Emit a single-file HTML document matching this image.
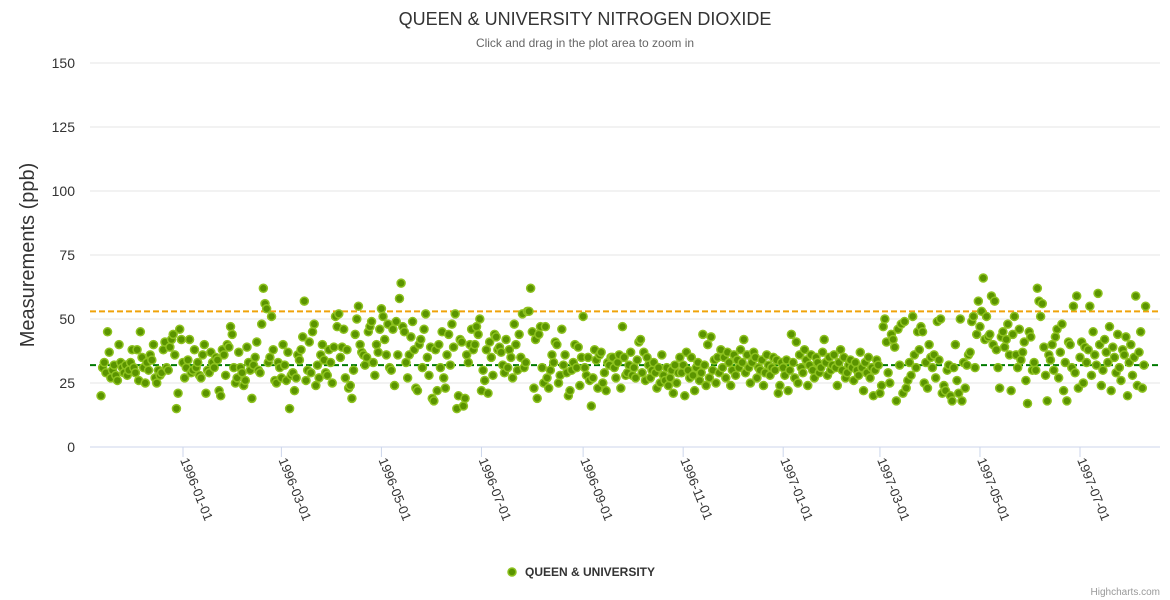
<!DOCTYPE html>
<html><head><meta charset="utf-8"><style>
body{margin:0;background:#fff;font-family:"Liberation Sans",sans-serif}
svg{display:block}
</style></head><body>
<svg id="chart" width="1170" height="600">
<text x="585" y="25" text-anchor="middle" font-size="18" fill="#333">QUEEN &amp; UNIVERSITY NITROGEN DIOXIDE</text>
<text x="585" y="47" text-anchor="middle" font-size="12" fill="#666">Click and drag in the plot area to zoom in</text>
<text transform="translate(34,255) rotate(-90)" text-anchor="middle" font-size="20" fill="#333">Measurements (ppb)</text>
<g id="grid"></g><g id="xaxis"></g><g id="plot"></g>
<g>
<circle cx="512" cy="572" r="4" fill="#5a9400" stroke="#8dc21f" stroke-width="1.5"/>
<text x="525" y="576" font-size="12" font-weight="bold" fill="#333">QUEEN &amp; UNIVERSITY</text>
</g>
<text x="1160" y="595" text-anchor="end" font-size="10" fill="#999">Highcharts.com</text>
</svg>
<script>
const yTicks=[0,25,50,75,100,125,150];
const xTickLabels=["1996-01-01","1996-03-01","1996-05-01","1996-07-01","1996-09-01","1996-11-01","1997-01-01","1997-03-01","1997-05-01","1997-07-01"];
const startDate="1995-11-12";
const upperRef=53;
const lowerRef=32;
const values=[
20,31,33,29,45,37,27,30,32,28,26,40,33,31,29,32,28,30,33,38,31,
29,38,26,45,35,31,25,33,30,36,34,40,27,25,30,28,29,38,41,31,30,39,42,44,36,15,21,46,42,33,
27,31,34,42,29,30,38,31,33,28,27,36,40,21,30,29,37,33,31,35,34,22,20,38,36,28,40,39,47,44,31,
25,27,37,31,29,24,26,39,33,30,19,32,35,41,30,29,48,62,56,54,33,35,51,38,26,25,33,31,27,
40,32,26,37,15,28,29,22,27,36,34,38,43,57,26,30,41,29,45,48,24,32,27,36,40,34,29,28,38,33,25,
39,51,47,52,35,39,46,27,38,23,24,19,30,44,50,55,40,37,36,32,35,45,47,49,33,28,40,37,46,54,
51,42,36,48,31,30,46,24,49,36,58,64,47,45,33,27,36,43,49,38,23,22,40,42,31,46,52,35,28,39,19,
18,38,22,40,31,45,27,23,36,44,32,48,39,52,15,20,42,41,16,19,36,33,40,46,38,40,47,44,50,22,
30,26,38,21,41,35,28,44,43,38,39,37,32,29,42,31,38,35,27,48,40,30,44,35,52,31,33,53,53,62,
45,23,42,19,44,47,31,25,47,27,23,30,36,33,41,40,25,28,46,32,36,29,20,22,30,33,40,31,39,24,35,
51,31,28,35,26,16,27,38,34,23,36,37,25,29,22,33,32,35,35,31,27,33,36,23,47,35,28,29,32,37,
28,31,27,34,41,42,29,37,26,35,32,27,30,33,29,23,31,25,36,28,26,31,24,27,30,21,32,25,29,35,29,
32,20,37,30,27,35,28,22,31,33,26,29,44,32,24,40,27,43,30,34,25,35,29,38,31,35,27,37,33,24,
30,36,28,34,31,38,33,42,29,36,31,25,33,37,35,27,31,30,34,24,29,36,32,28,31,35,30,34,21,24,33,
31,28,34,22,30,44,33,27,41,25,36,31,29,38,34,24,32,36,30,27,35,33,29,31,37,42,33,28,35,30,32,
36,31,24,33,38,30,35,27,29,32,34,31,26,33,30,28,37,31,22,33,29,35,27,31,20,30,34,32,
21,24,47,50,41,29,25,44,42,39,18,46,32,48,21,49,23,26,33,28,51,36,31,45,38,47,45,25,33,23,40,
35,31,36,27,49,34,50,21,24,22,30,32,20,18,31,40,26,21,50,18,33,23,32,36,37,49,51,31,44,57,
47,53,66,42,51,43,44,59,40,57,38,31,23,43,45,39,42,48,36,22,44,51,36,31,46,34,37,41,26,17,45,
43,30,33,30,62,57,51,56,39,28,18,36,34,40,30,43,46,27,37,48,22,33,18,41,40,31,55,29,59,23,
35,41,25,39,33,38,55,28,45,36,32,60,40,24,30,42,37,33,47,22,39,35,29,44,31,26,38,36,43,20,33,
40,28,35,59,24,37,45,23,32,55
];
const NS="http://www.w3.org/2000/svg";
const L=90,R=1160,T=63,B=447,YMAX=150;
const D0=Date.UTC(1996,0,1),D1=Date.UTC(1997,6,1);
function ys(v){return B-(v/YMAX)*(B-T);}
function xs(t){return 183+(t-D0)/(D1-D0)*(1080-183);}
function mk(tag,attrs,parent){const e=document.createElementNS(NS,tag);for(const k in attrs)e.setAttribute(k,attrs[k]);parent.appendChild(e);return e;}
const grid=document.getElementById('grid'),xa=document.getElementById('xaxis'),plot=document.getElementById('plot');
yTicks.forEach(v=>{
  const y=ys(v);
  const ln=mk('line',{x1:L,x2:R,y1:y,y2:y,stroke:v===0?'#ccd6eb':'#e6e6e6','stroke-width':1},grid);
  
  
  const t=mk('text',{x:75,y:y+5,'text-anchor':'end','font-size':14,fill:'#333'},grid);
  t.textContent=v;
  
  
});
xTickLabels.forEach(s=>{
  const p=s.split('-');const x=xs(Date.UTC(+p[0],+p[1]-1,+p[2]));
  const tk=mk('line',{x1:x,x2:x,y1:B,y2:B+10,stroke:'#ccd6eb'},xa);
  
  
  const t=mk('text',{transform:`translate(${x-3},${B+13}) rotate(68)`,'font-size':13,fill:'#333'},xa);
  t.textContent=s;
  
  
});
[[upperRef,'#f0a30a'],[lowerRef,'#007a00']].forEach(([v,c])=>{
  const ln=mk('line',{x1:L,x2:R,y1:ys(v),y2:ys(v),stroke:c,'stroke-width':2,'stroke-dasharray':'6,3'},plot);
  
  
});
const sp=startDate.split('-');const s0=Date.UTC(+sp[0],+sp[1]-1,+sp[2]);
values.forEach((v,i)=>{
  const c=mk('circle',{cx:xs(s0+i*86400000),cy:ys(v),r:4,fill:'#5a9400',stroke:'#8dc21f','stroke-width':1.5},plot);
  
  
});
</script>
</body></html>
